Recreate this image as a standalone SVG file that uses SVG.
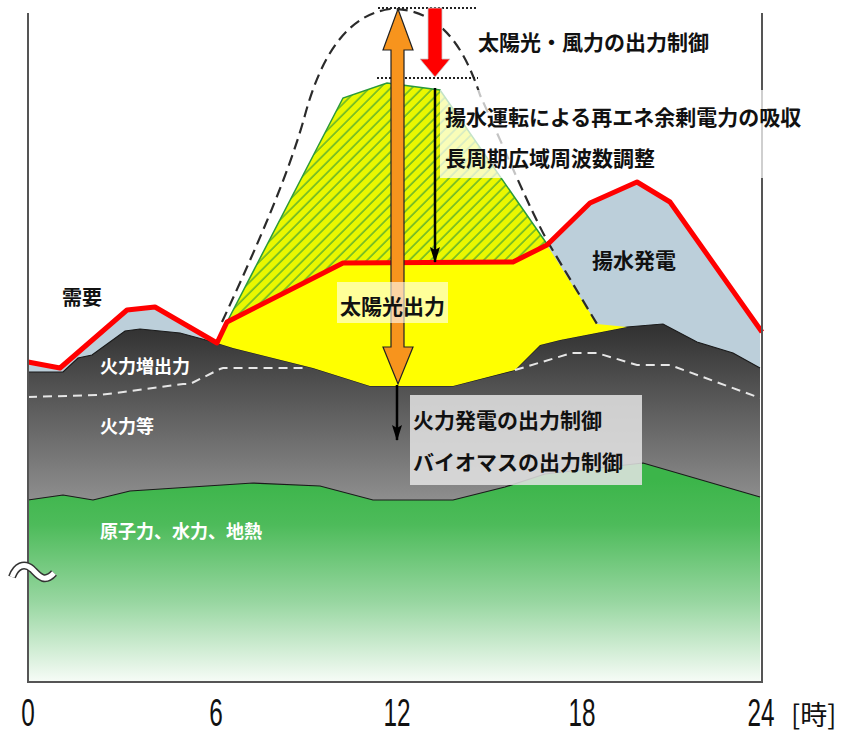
<svg xmlns="http://www.w3.org/2000/svg" width="842" height="735" viewBox="0 0 842 735">
<defs>
<style>
.jp{font-family:"Noto Sans CJK JP","Noto Sans CJK SC",sans-serif;}
.lbl{font-size:21px;fill:#111;font-weight:bold;}
.wl{font-size:18px;fill:#fff;font-weight:bold;}
.num{font-family:"Liberation Sans",Arial,sans-serif;font-size:38px;fill:#111;text-anchor:middle;}
.frame{stroke:#555;stroke-width:2;fill:none;}
.edge{stroke:#1a1a1a;stroke-width:1.2;fill:none;}
</style>
<linearGradient id="gGreen" gradientUnits="userSpaceOnUse" x1="0" y1="480" x2="0" y2="682">
<stop offset="0" stop-color="#3cb54a"/>
<stop offset="0.22" stop-color="#4dbb5a"/>
<stop offset="0.6" stop-color="#97d6a0"/>
<stop offset="1" stop-color="#f7fcf7"/>
</linearGradient>
<linearGradient id="gGray" gradientUnits="userSpaceOnUse" x1="0" y1="330" x2="0" y2="500">
<stop offset="0" stop-color="#333333"/>
<stop offset="1" stop-color="#8e8e8e"/>
</linearGradient>
<pattern id="hatch" patternUnits="userSpaceOnUse" width="7.5" height="7.5" patternTransform="rotate(45)">
<rect width="7.5" height="7.5" fill="#eaf700"/>
<line x1="1" y1="0" x2="1" y2="7.5" stroke="#2f9a3a" stroke-width="1.1"/>
</pattern>
<marker id="ah" markerWidth="16" markerHeight="10" refX="15" refY="5" orient="auto" markerUnits="userSpaceOnUse" viewBox="0 0 16 10">
<path d="M0,0 L16,5 L0,10 L3,5 Z" fill="#000"/>
</marker>
</defs>
<rect width="842" height="735" fill="#fff"/>

<g id="areas">
<polygon id="blue" fill="#bccfda" points="28,362 60,368 127,310 155,307 217,343 227,322 343,263 513,262 547,245 590,203 637,182 670,202 760,332 760,400 28,400"/>
<polygon id="thermal" fill="url(#gGray)" points="28,372 63,372 78,358 92,355 125,331 140,329 180,333 217,343 233,348 313,368 370,386 453,386 515,370 540,345 560,340 627,327 663,324 697,342 733,353 760,368 760,682 28,682"/>
<polyline class="edge" points="28,372 63,372 78,358 92,355 125,331 140,329 180,333 217,343 233,348 313,368 370,386 453,386 515,370 540,345 560,340 627,327 663,324 697,342 733,353 760,368"/>
<polygon id="base" fill="url(#gGreen)" points="28,500 63,495 93,500 130,491 253,483 320,486 373,500 453,500 505,487 545,474 643,463 760,497 760,682 28,682"/>
<polyline class="edge" points="28,500 63,495 93,500 130,491 253,483 320,486 373,500 453,500 505,487 545,474 643,463 760,497"/>
<polygon id="solar" fill="#ffff00" points="217,343 227,322 343,263 513,262 547,245 597,324 627,327 560,340 540,345 515,370 453,386 370,386 313,368 233,348"/>
<polygon id="hatched" fill="url(#hatch)" stroke="#2a9a3a" stroke-width="1.5" points="227,322 343,98 387,83 440,90 547,244 513,262 343,263"/>
</g>

<g id="lines">
<polyline fill="none" stroke="#e6e6e6" stroke-width="2" stroke-dasharray="9 6" points="28,397 100,395 183,384 190,384 220,369 223,368 305,368"/>
<polyline fill="none" stroke="#e6e6e6" stroke-width="2" stroke-dasharray="9 6" points="515,370 572,353 597,353 637,365 670,365 760,398"/>
<path fill="none" stroke="#2b2b2b" stroke-width="2.2" stroke-dasharray="11 6" d="M222,322 C260,240 290,170 305,115 C320,60 345,15 390,9 C435,8 462,40 480,95 C505,150 530,210 549,244 L597,324"/>
<polyline id="demand" fill="none" stroke="#ff0000" stroke-width="5" stroke-linejoin="round" points="28,362 60,368 127,310 155,307 217,343 227,322 343,263 513,262 547,245 590,203 637,182 670,202 762,332"/>
<line x1="378" y1="8" x2="478" y2="8" stroke="#222" stroke-width="2" stroke-dasharray="2 2"/>
<line x1="377" y1="78" x2="478" y2="78" stroke="#222" stroke-width="2" stroke-dasharray="2 2"/>
</g>

<g id="connectors">
<polygon id="solarArrow" fill="#f7941d" stroke="#222" stroke-width="1.2" points="398,9 413,50 404,50 404,347 413,347 398,384 383,347 391,347 391,50 383,50"/>
<polygon id="curtailArrow" fill="#ff0000" stroke="#c8c8c8" stroke-width="0.8" points="428,8 442,8 442,59 450,59 435,77 420,59 428,59"/>
<line x1="435" y1="88" x2="435" y2="262" stroke="#000" stroke-width="2.5" marker-end="url(#ah)"/>
<line x1="397" y1="385" x2="397" y2="440" stroke="#000" stroke-width="2.5" marker-end="url(#ah)"/>
</g>

<g id="frame">
<polyline class="frame" points="28,13 28,682 762,682 762,13"/>
<path d="M12,577 C16,566 24,562 32,569 C38,575 44,584 54,573" fill="none" stroke="#333" stroke-width="8"/>
<path d="M12,577 C16,566 24,562 32,569 C38,575 44,584 54,573" fill="none" stroke="#fff" stroke-width="5"/>
</g>

<g id="n-demand"><text class="jp" x="62" y="305" font-size="20" font-weight="bold" fill="#111">需要</text></g>
<g id="n-thermal-inc"><text class="jp wl" x="100" y="373">火力増出力</text></g>
<g id="n-thermal"><text class="jp wl" x="100" y="433">火力等</text></g>
<g id="n-base"><text class="jp wl" x="100" y="538">原子力、水力、地熱</text></g>
<g id="n-solar">
<rect x="337" y="282" width="111" height="41" fill="#fff" fill-opacity="0.6"/>
<text class="jp lbl" x="340" y="314">太陽光出力</text>
</g>
<g id="n-pump"><text class="jp lbl" x="592" y="268">揚水発電</text></g>
<g id="n-curtail"><text class="jp lbl" x="478" y="50">太陽光・風力の出力制御</text></g>
<g id="n-absorb">
<rect x="440" y="90" width="372" height="88" fill="#fff" fill-opacity="0.72"/>
<text class="jp lbl" x="445" y="125">揚水運転による再エネ余剰電力の吸収</text>
<text class="jp lbl" x="445" y="166">長周期広域周波数調整</text>
</g>
<g id="n-control">
<rect x="410" y="395" width="232" height="90" fill="#e4e4e4" fill-opacity="0.85"/>
<text class="jp lbl" x="413" y="428" font-size="21.5">火力発電の出力制御</text>
<text class="jp lbl" x="413" y="470" font-size="21.5">バイオマスの出力制御</text>
</g>

<g id="axis">
<text class="num" transform="translate(28,726) scale(0.64,1)">0</text>
<text class="num" transform="translate(216,726) scale(0.64,1)">6</text>
<text class="num" transform="translate(397,726) scale(0.64,1)">12</text>
<text class="num" transform="translate(582,726) scale(0.64,1)">18</text>
<text class="num" transform="translate(761,726) scale(0.64,1)">24</text>
<text class="jp" x="791" y="725" font-size="27" fill="#111">[時]</text>
</g>
</svg>
